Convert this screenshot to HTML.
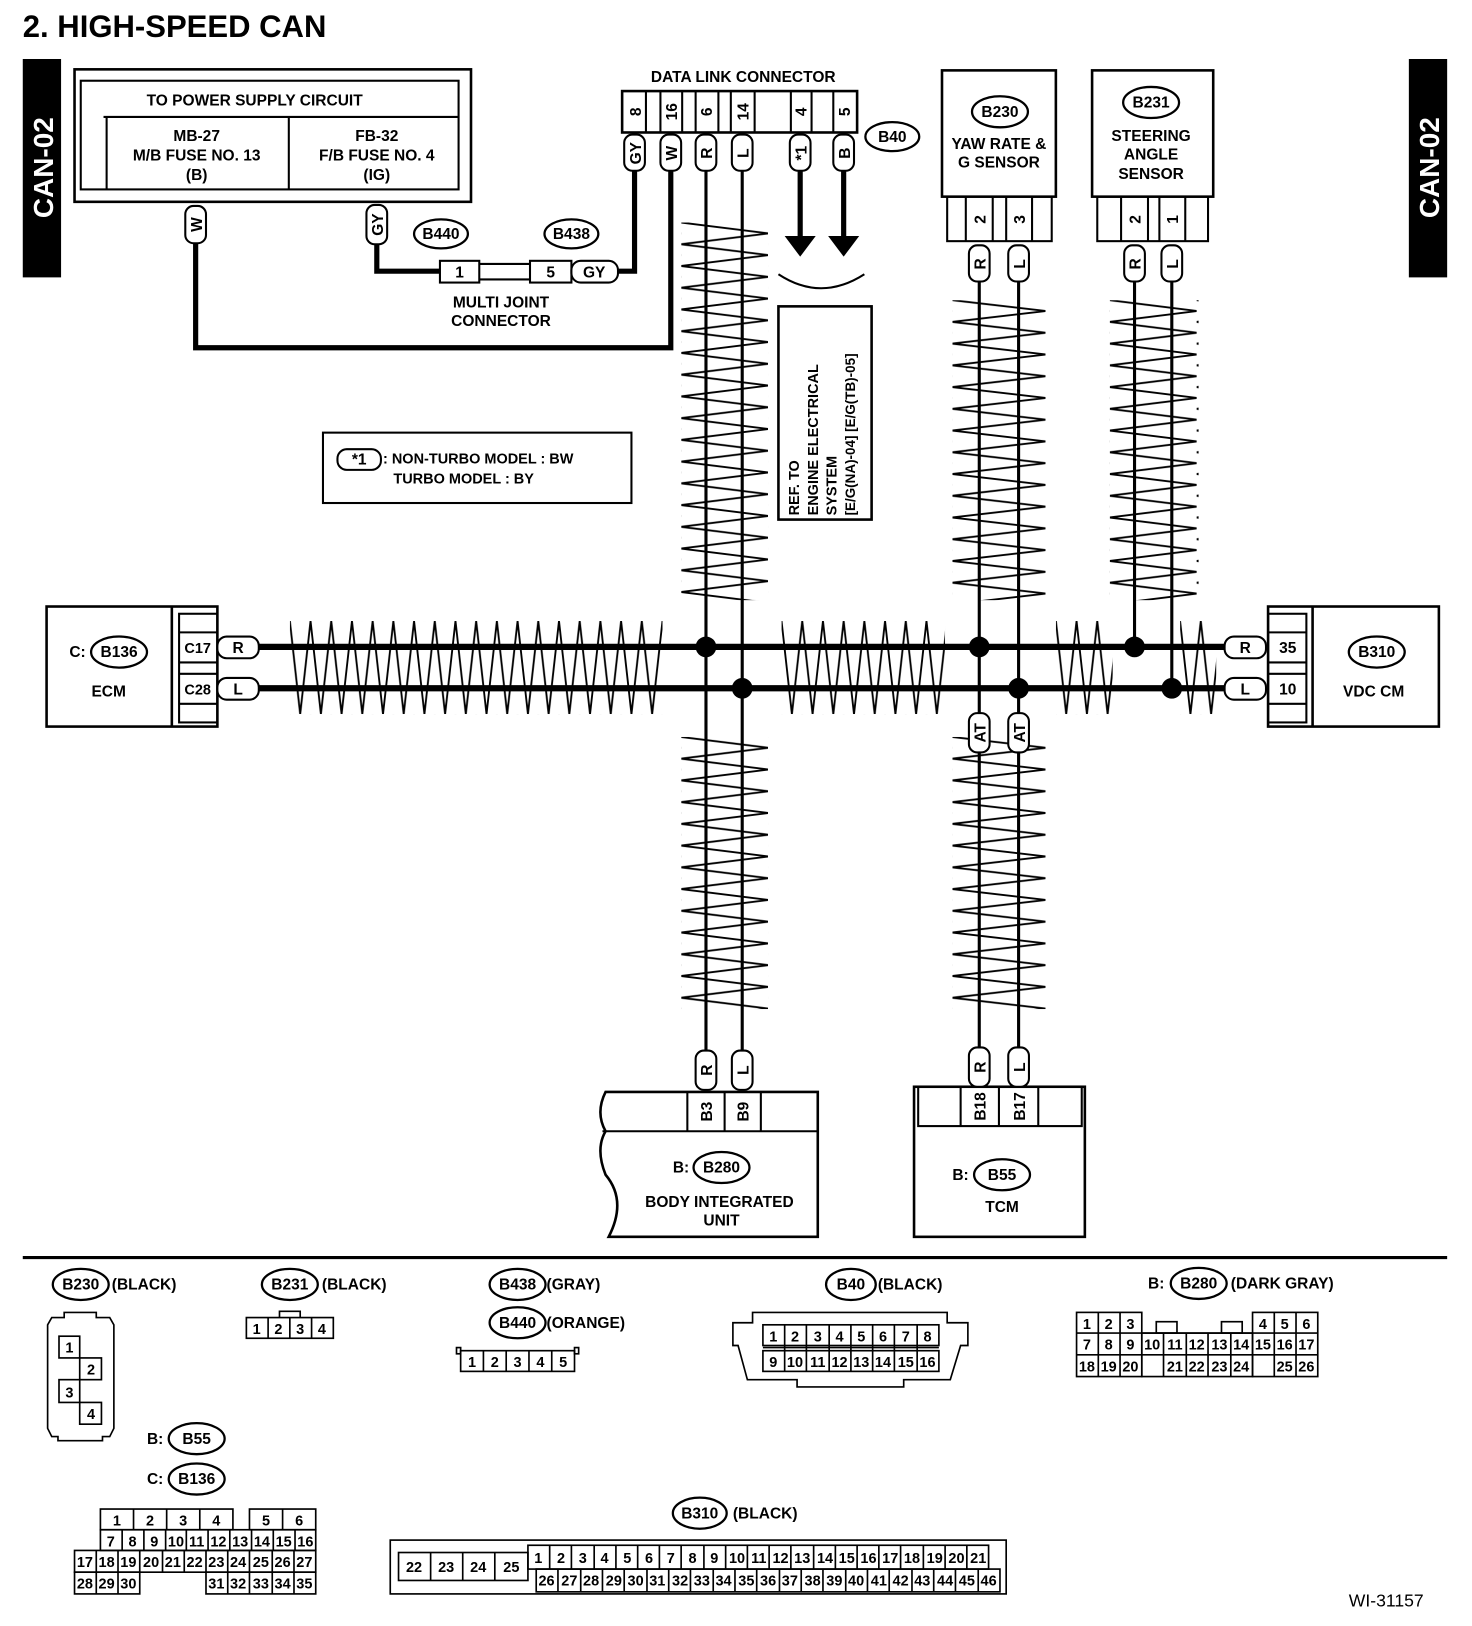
<!DOCTYPE html>
<html><head><meta charset="utf-8"><style>
html,body{margin:0;padding:0;background:#fff;}
svg{display:block}
text{font-family:"Liberation Sans",sans-serif;font-weight:bold;fill:#000}
</style></head><body>
<svg width="1472" height="1626" viewBox="0 0 1422 1571" preserveAspectRatio="none" xmlns="http://www.w3.org/2000/svg">
<defs>
<pattern id="zv" patternUnits="userSpaceOnUse" width="84" height="21"><path d="M0,0 L84,10.5 L0,21" fill="none" stroke="#000" stroke-width="1.8"/></pattern>
<pattern id="zv2" patternUnits="userSpaceOnUse" width="90" height="21"><path d="M0,0 L90,10.5 L0,21" fill="none" stroke="#000" stroke-width="1.8"/></pattern>
<pattern id="zh" patternUnits="userSpaceOnUse" width="20" height="90"><path d="M0,0 L10,90 L20,0" fill="none" stroke="#000" stroke-width="1.8"/></pattern>
</defs>
<rect width="1422" height="1571" fill="#fff"/>

<text x="22" y="36" font-size="30">2.  HIGH-SPEED CAN</text>

<!-- CAN-02 bars -->
<rect x="22" y="57" width="37" height="211" fill="#000"/>
<text transform="translate(51,162) rotate(-90)" font-size="27" text-anchor="middle" style="fill:#fff">CAN-02</text>
<rect x="1361" y="57" width="37" height="211" fill="#000"/>
<text transform="translate(1390,162) rotate(-90)" font-size="27" text-anchor="middle" style="fill:#fff">CAN-02</text>

<!-- zigzags -->
<svg x="658" y="215" width="84" height="365"><rect width="84" height="365" fill="url(#zv)"/></svg>
<svg x="658" y="712" width="84" height="263"><rect width="84" height="263" fill="url(#zv)"/></svg>
<svg x="920" y="290" width="90" height="290"><rect width="90" height="290" fill="url(#zv2)"/></svg>
<svg x="920" y="712" width="90" height="263"><rect width="90" height="263" fill="url(#zv2)"/></svg>
<svg x="1072" y="290" width="86" height="290"><rect width="86" height="290" fill="url(#zv)"/></svg>
<svg x="280" y="600" width="360" height="90"><rect width="360" height="90" fill="url(#zh)"/></svg>
<svg x="755" y="600" width="158" height="90"><rect width="158" height="90" fill="url(#zh)"/></svg>
<svg x="1020" y="600" width="55" height="90"><rect width="55" height="90" fill="url(#zh)"/></svg>
<svg x="1140" y="600" width="35" height="90"><rect width="35" height="90" fill="url(#zh)"/></svg>

<g fill="none" stroke="#000">
<rect x="72" y="67" width="383" height="128" stroke-width="2.5"/>
<rect x="78" y="78" width="365" height="105" stroke-width="2"/>
<line x1="100" y1="113" x2="443" y2="113" stroke-width="2"/>
<line x1="103" y1="113" x2="103" y2="183" stroke-width="2"/>
<line x1="279" y1="113" x2="279" y2="183" stroke-width="2"/>
<polyline points="189,235 189,336 648,336 648,165" stroke-width="5"/>
<polyline points="364,236 364,262 425,262" stroke-width="5"/>
<polyline points="597,262 613,262 613,165" stroke-width="5"/>
<rect x="425" y="252" width="38" height="21" stroke-width="2"/>
<rect x="512" y="252" width="40" height="21" stroke-width="2"/>
<line x1="463" y1="255" x2="512" y2="255" stroke-width="2"/>
<line x1="463" y1="270" x2="512" y2="270" stroke-width="2"/>
<rect x="601" y="88" width="227" height="40" stroke-width="2.5"/>
<g stroke-width="2">
<line x1="624" y1="88" x2="624" y2="128"/><line x1="638" y1="88" x2="638" y2="128"/>
<line x1="659" y1="88" x2="659" y2="128"/><line x1="672" y1="88" x2="672" y2="128"/>
<line x1="694" y1="88" x2="694" y2="128"/><line x1="706" y1="88" x2="706" y2="128"/>
<line x1="729" y1="88" x2="729" y2="128"/><line x1="764" y1="88" x2="764" y2="128"/>
<line x1="784" y1="88" x2="784" y2="128"/><line x1="805" y1="88" x2="805" y2="128"/>
</g>
<line x1="682" y1="165" x2="682" y2="1015" stroke-width="3"/>
<line x1="717" y1="165" x2="717" y2="1015" stroke-width="3"/>
<line x1="773" y1="165" x2="773" y2="228" stroke-width="5"/>
<line x1="815" y1="165" x2="815" y2="228" stroke-width="5"/>
<path d="M752,265 Q793,292 835,265" stroke-width="2"/>
<rect x="752" y="296" width="90" height="206" stroke-width="2.5"/>
<rect x="312" y="418" width="298" height="68" stroke-width="2"/>
<line x1="250" y1="625" x2="1183" y2="625" stroke-width="6"/>
<line x1="250" y1="665" x2="1183" y2="665" stroke-width="6"/>
<rect x="910" y="68" width="110" height="122" stroke-width="2.5"/>
<rect x="915" y="190" width="101" height="43" stroke-width="2"/>
<line x1="933" y1="190" x2="933" y2="233" stroke-width="2"/><line x1="959" y1="190" x2="959" y2="233" stroke-width="2"/>
<line x1="972" y1="190" x2="972" y2="233" stroke-width="2"/><line x1="997" y1="190" x2="997" y2="233" stroke-width="2"/>
<line x1="946" y1="272" x2="946" y2="1012" stroke-width="3"/>
<line x1="984" y1="272" x2="984" y2="1012" stroke-width="3"/>
<rect x="1055" y="68" width="117" height="122" stroke-width="2.5"/>
<rect x="1060" y="190" width="107" height="43" stroke-width="2"/>
<line x1="1083" y1="190" x2="1083" y2="233" stroke-width="2"/><line x1="1109" y1="190" x2="1109" y2="233" stroke-width="2"/>
<line x1="1120" y1="190" x2="1120" y2="233" stroke-width="2"/><line x1="1145" y1="190" x2="1145" y2="233" stroke-width="2"/>
<line x1="1096" y1="272" x2="1096" y2="625" stroke-width="3"/>
<line x1="1132" y1="272" x2="1132" y2="665" stroke-width="3"/>
<rect x="45" y="586" width="165" height="116" stroke-width="2.5"/>
<line x1="166" y1="586" x2="166" y2="702" stroke-width="2.5"/>
<rect x="173" y="593" width="37" height="105" stroke-width="2"/>
<line x1="173" y1="611" x2="210" y2="611" stroke-width="2"/>
<line x1="173" y1="640" x2="210" y2="640" stroke-width="2"/>
<line x1="173" y1="651" x2="210" y2="651" stroke-width="2"/>
<line x1="173" y1="680" x2="210" y2="680" stroke-width="2"/>
<rect x="1225" y="586" width="165" height="116" stroke-width="2.5"/>
<line x1="1268" y1="586" x2="1268" y2="702" stroke-width="2.5"/>
<rect x="1225" y="593" width="37" height="105" stroke-width="2"/>
<line x1="1225" y1="611" x2="1262" y2="611" stroke-width="2"/>
<line x1="1225" y1="640" x2="1262" y2="640" stroke-width="2"/>
<line x1="1225" y1="651" x2="1262" y2="651" stroke-width="2"/>
<line x1="1225" y1="680" x2="1262" y2="680" stroke-width="2"/>
<path d="M585,1055 L790,1055 L790,1195 L588,1195 Q606,1160 585,1135 Q575,1110 585,1093 Q575,1075 585,1055 Z" stroke-width="2.5"/>
<line x1="582" y1="1093" x2="790" y2="1093" stroke-width="2"/>
<line x1="664" y1="1055" x2="664" y2="1093" stroke-width="2"/><line x1="700" y1="1055" x2="700" y2="1093" stroke-width="2"/>
<line x1="735" y1="1055" x2="735" y2="1093" stroke-width="2"/>
<rect x="883" y="1050" width="165" height="145" stroke-width="2.5"/>
<rect x="887" y="1050" width="158" height="38" stroke-width="2"/>
<line x1="928" y1="1050" x2="928" y2="1088" stroke-width="2"/><line x1="965" y1="1050" x2="965" y2="1088" stroke-width="2"/>
<line x1="1003" y1="1050" x2="1003" y2="1088" stroke-width="2"/>
<line x1="22" y1="1215" x2="1398" y2="1215" stroke-width="3"/>
</g>

<polygon points="758,228 788,228 773,248" fill="#000"/>
<polygon points="800,228 830,228 815,248" fill="#000"/>
<g fill="#000">
<circle cx="682" cy="625" r="10"/><circle cx="717" cy="665" r="10"/>
<circle cx="946" cy="625" r="10"/><circle cx="984" cy="665" r="10"/>
<circle cx="1096" cy="625" r="10"/><circle cx="1132" cy="665" r="10"/>
</g>

<g fill="#fff" stroke="#000" stroke-width="2">
<rect x="179" y="199" width="20" height="36" rx="8"/>
<rect x="354" y="198" width="20" height="38" rx="8"/>
<rect x="603" y="130" width="20" height="35" rx="8"/>
<rect x="638" y="130" width="20" height="35" rx="8"/>
<rect x="672" y="130" width="20" height="35" rx="8"/>
<rect x="707" y="130" width="20" height="35" rx="8"/>
<rect x="763" y="130" width="20" height="35" rx="8"/>
<rect x="805" y="130" width="20" height="35" rx="8"/>
<rect x="936" y="237" width="20" height="35" rx="8"/>
<rect x="974" y="237" width="20" height="35" rx="8"/>
<rect x="1086" y="237" width="20" height="35" rx="8"/>
<rect x="1122" y="237" width="20" height="35" rx="8"/>
<rect x="936" y="689" width="20" height="38" rx="8"/>
<rect x="974" y="689" width="20" height="38" rx="8"/>
<rect x="672" y="1015" width="20" height="38" rx="8"/>
<rect x="707" y="1015" width="20" height="38" rx="8"/>
<rect x="936" y="1012" width="20" height="38" rx="8"/>
<rect x="974" y="1012" width="20" height="38" rx="8"/>
<rect x="552" y="252" width="45" height="21" rx="9"/>
<rect x="210" y="615" width="40" height="21" rx="9"/>
<rect x="210" y="655" width="40" height="21" rx="9"/>
<rect x="1183" y="615" width="40" height="21" rx="9"/>
<rect x="1183" y="655" width="40" height="21" rx="9"/>
<rect x="326" y="434" width="42" height="20" rx="9"/>
</g>
<g font-size="15">
<text transform="translate(195,217) rotate(-90)" text-anchor="middle">W</text>
<text transform="translate(370,217) rotate(-90)" text-anchor="middle">GY</text>
<text transform="translate(619,148) rotate(-90)" text-anchor="middle">GY</text>
<text transform="translate(654,148) rotate(-90)" text-anchor="middle">W</text>
<text transform="translate(688,148) rotate(-90)" text-anchor="middle">R</text>
<text transform="translate(723,148) rotate(-90)" text-anchor="middle">L</text>
<text transform="translate(779,148) rotate(-90)" text-anchor="middle">*1</text>
<text transform="translate(821,148) rotate(-90)" text-anchor="middle">B</text>
<text transform="translate(952,255) rotate(-90)" text-anchor="middle">R</text>
<text transform="translate(990,255) rotate(-90)" text-anchor="middle">L</text>
<text transform="translate(1102,255) rotate(-90)" text-anchor="middle">R</text>
<text transform="translate(1138,255) rotate(-90)" text-anchor="middle">L</text>
<text transform="translate(952,708) rotate(-90)" text-anchor="middle">AT</text>
<text transform="translate(990,708) rotate(-90)" text-anchor="middle">AT</text>
<text transform="translate(688,1034) rotate(-90)" text-anchor="middle">R</text>
<text transform="translate(723,1034) rotate(-90)" text-anchor="middle">L</text>
<text transform="translate(952,1031) rotate(-90)" text-anchor="middle">R</text>
<text transform="translate(990,1031) rotate(-90)" text-anchor="middle">L</text>
<text transform="translate(619,108) rotate(-90)" text-anchor="middle">8</text>
<text transform="translate(654,108) rotate(-90)" text-anchor="middle">16</text>
<text transform="translate(688,108) rotate(-90)" text-anchor="middle">6</text>
<text transform="translate(723,108) rotate(-90)" text-anchor="middle">14</text>
<text transform="translate(779,108) rotate(-90)" text-anchor="middle">4</text>
<text transform="translate(821,108) rotate(-90)" text-anchor="middle">5</text>
<text transform="translate(952,212) rotate(-90)" text-anchor="middle">2</text>
<text transform="translate(990,212) rotate(-90)" text-anchor="middle">3</text>
<text transform="translate(1102,212) rotate(-90)" text-anchor="middle">2</text>
<text transform="translate(1138,212) rotate(-90)" text-anchor="middle">1</text>
<text transform="translate(688,1074) rotate(-90)" text-anchor="middle">B3</text>
<text transform="translate(723,1074) rotate(-90)" text-anchor="middle">B9</text>
<text transform="translate(952,1069) rotate(-90)" text-anchor="middle">B18</text>
<text transform="translate(990,1069) rotate(-90)" text-anchor="middle">B17</text>
<text x="574" y="268" text-anchor="middle">GY</text>
<text x="230" y="631" text-anchor="middle">R</text>
<text x="230" y="671" text-anchor="middle">L</text>
<text x="1203" y="631" text-anchor="middle">R</text>
<text x="1203" y="671" text-anchor="middle">L</text>
<text x="347" y="449" text-anchor="middle">*1</text>
<text x="444" y="268" text-anchor="middle">1</text>
<text x="532" y="268" text-anchor="middle">5</text>
<text x="191" y="631" text-anchor="middle" font-size="14">C17</text>
<text x="191" y="671" text-anchor="middle" font-size="14">C28</text>
<text x="1244" y="631" text-anchor="middle">35</text>
<text x="1244" y="671" text-anchor="middle">10</text>
</g>

<g font-size="15" text-anchor="middle">
<text x="246" y="102">TO POWER SUPPLY CIRCUIT</text>
<text x="190" y="136">MB-27</text><text x="190" y="155">M/B FUSE NO. 13</text><text x="190" y="174">(B)</text>
<text x="364" y="136">FB-32</text><text x="364" y="155">F/B FUSE NO. 4</text><text x="364" y="174">(IG)</text>
<text x="718" y="79">DATA LINK CONNECTOR</text>
<text x="484" y="297">MULTI JOINT</text><text x="484" y="315">CONNECTOR</text>
<text x="965" y="144">YAW RATE &amp;</text><text x="965" y="162">G SENSOR</text>
<text x="1112" y="136">STEERING</text><text x="1112" y="154">ANGLE</text><text x="1112" y="173">SENSOR</text>
<text x="105" y="673">ECM</text>
<text x="1327" y="673">VDC CM</text>
<text x="695" y="1166">BODY INTEGRATED</text><text x="697" y="1184">UNIT</text>
<text x="968" y="1171">TCM</text>
</g>
<g font-size="14">
<text x="370" y="448">: NON-TURBO MODEL  : BW</text>
<text x="380" y="467">TURBO MODEL  : BY</text>
<text transform="translate(772,498) rotate(-90)">REF. TO</text>
<text transform="translate(790,498) rotate(-90)">ENGINE ELECTRICAL</text>
<text transform="translate(808,498) rotate(-90)">SYSTEM</text>
<text transform="translate(826,498) rotate(-90)" font-size="13">[E/G(NA)-04] [E/G(TB)-05]</text>
</g>

<g fill="none" stroke="#000" stroke-width="2.2">
<ellipse cx="426" cy="226" rx="26" ry="14"/>
<ellipse cx="552" cy="226" rx="26" ry="14"/>
<ellipse cx="862" cy="132" rx="26" ry="14"/>
<ellipse cx="966" cy="108" rx="27" ry="15"/>
<ellipse cx="1112" cy="99" rx="27" ry="15"/>
<ellipse cx="115" cy="630" rx="27" ry="15"/>
<ellipse cx="1330" cy="630" rx="27" ry="15"/>
<ellipse cx="697" cy="1128" rx="27" ry="15"/>
<ellipse cx="968" cy="1135" rx="27" ry="15"/>
<ellipse cx="78" cy="1241" rx="27" ry="15"/>
<ellipse cx="280" cy="1241" rx="27" ry="15"/>
<ellipse cx="500" cy="1241" rx="27" ry="15"/>
<ellipse cx="500" cy="1278" rx="27" ry="15"/>
<ellipse cx="822" cy="1241" rx="24" ry="15"/>
<ellipse cx="1158" cy="1240" rx="27" ry="15"/>
<ellipse cx="190" cy="1390" rx="27" ry="15"/>
<ellipse cx="190" cy="1429" rx="27" ry="15"/>
<ellipse cx="676" cy="1462" rx="26" ry="15"/>
</g>
<g font-size="15" text-anchor="middle">
<text x="426" y="231">B440</text><text x="552" y="231">B438</text><text x="862" y="137">B40</text>
<text x="966" y="113">B230</text><text x="1112" y="104">B231</text>
<text x="115" y="635">B136</text><text x="1330" y="635">B310</text>
<text x="697" y="1133">B280</text><text x="968" y="1140">B55</text>
<text x="78" y="1246">B230</text><text x="280" y="1246">B231</text>
<text x="500" y="1246">B438</text><text x="500" y="1283">B440</text>
<text x="822" y="1246">B40</text><text x="1158" y="1245">B280</text>
<text x="190" y="1395">B55</text><text x="190" y="1434">B136</text>
<text x="676" y="1467">B310</text>
</g>
<g font-size="15">
<text x="67" y="635">C:</text><text x="650" y="1133">B:</text><text x="920" y="1140">B:</text>
<text x="108" y="1246">(BLACK)</text><text x="311" y="1246">(BLACK)</text>
<text x="528" y="1246">(GRAY)</text><text x="528" y="1283">(ORANGE)</text>
<text x="848" y="1246">(BLACK)</text>
<text x="1109" y="1245">B:</text><text x="1189" y="1245">(DARK GRAY)</text>
<text x="142" y="1395">B:</text><text x="142" y="1434">C:</text>
<text x="708" y="1467">(BLACK)</text>
</g>
<text x="1303" y="1552" font-size="17" style="font-weight:normal">WI-31157</text>

<g fill="none" stroke="#000" stroke-width="1.6">
<path d="M62,1268 L93,1268 L93,1273 L106,1273 L110,1280 L110,1380 L106,1388 L99,1388 L99,1392 L56,1392 L56,1388 L50,1388 L46,1380 L46,1280 L50,1273 L62,1273 Z"/>
<rect x="57" y="1291" width="20" height="21"/><rect x="77" y="1312" width="21" height="21"/>
<rect x="57" y="1333" width="20" height="22"/><rect x="77" y="1355" width="21" height="21"/>
<rect x="238" y="1273" width="84" height="20"/>
<line x1="259" y1="1273" x2="259" y2="1293"/><line x1="280" y1="1273" x2="280" y2="1293"/><line x1="301" y1="1273" x2="301" y2="1293"/>
<polyline points="270,1273 270,1267 290,1267 290,1273"/>
<rect x="445" y="1305" width="110" height="20"/>
<line x1="467" y1="1305" x2="467" y2="1325"/><line x1="489" y1="1305" x2="489" y2="1325"/><line x1="511" y1="1305" x2="511" y2="1325"/><line x1="533" y1="1305" x2="533" y2="1325"/>
<rect x="441" y="1302" width="4" height="6"/><rect x="555" y="1302" width="4" height="6"/>
<path d="M727,1268 L915,1268 L915,1278 L935,1278 L935,1300 L928,1300 L918,1333 L873,1333 L873,1340 L770,1340 L770,1333 L722,1333 L713,1300 L708,1300 L708,1278 L727,1278 Z"/>
<rect x="737" y="1280" width="170" height="20"/><rect x="737" y="1305" width="170" height="20"/>
<line x1="737" y1="1302" x2="907" y2="1302"/>
<g>
<line x1="758" y1="1280" x2="758" y2="1325"/><line x1="779" y1="1280" x2="779" y2="1325"/><line x1="801" y1="1280" x2="801" y2="1325"/><line x1="822" y1="1280" x2="822" y2="1325"/><line x1="843" y1="1280" x2="843" y2="1325"/><line x1="864" y1="1280" x2="864" y2="1325"/><line x1="886" y1="1280" x2="886" y2="1325"/>
</g>
<rect x="1040" y="1268" width="63" height="62"/><rect x="1210" y="1268" width="63" height="62"/>
<rect x="1103" y="1288" width="107" height="42"/>
<line x1="1040" y1="1288" x2="1273" y2="1288"/><line x1="1040" y1="1309" x2="1273" y2="1309"/>
<line x1="1061" y1="1268" x2="1061" y2="1330"/><line x1="1082" y1="1268" x2="1082" y2="1330"/>
<line x1="1231" y1="1268" x2="1231" y2="1330"/><line x1="1252" y1="1268" x2="1252" y2="1330"/>
<line x1="1124" y1="1288" x2="1124" y2="1330"/><line x1="1146" y1="1288" x2="1146" y2="1330"/><line x1="1167" y1="1288" x2="1167" y2="1330"/><line x1="1189" y1="1288" x2="1189" y2="1330"/>
<rect x="1117" y="1277" width="20" height="11"/><rect x="1180" y="1277" width="20" height="11"/>
<rect x="97" y="1458" width="128" height="20"/><rect x="241" y="1458" width="64" height="20"/>
<line x1="129" y1="1458" x2="129" y2="1478"/><line x1="161" y1="1458" x2="161" y2="1478"/><line x1="193" y1="1458" x2="193" y2="1478"/><line x1="273" y1="1458" x2="273" y2="1478"/>
<rect x="97" y="1478" width="208" height="20"/>
<rect x="72" y="1498" width="233" height="21"/>
<rect x="72" y="1519" width="63" height="21"/><rect x="199" y="1519" width="106" height="21"/>
</g>
<g stroke="#000" stroke-width="1.6">
<line x1="118" y1="1478" x2="118" y2="1498"/><line x1="139" y1="1478" x2="139" y2="1498"/><line x1="160" y1="1478" x2="160" y2="1498"/><line x1="180" y1="1478" x2="180" y2="1498"/><line x1="201" y1="1478" x2="201" y2="1498"/><line x1="222" y1="1478" x2="222" y2="1498"/><line x1="243" y1="1478" x2="243" y2="1498"/><line x1="264" y1="1478" x2="264" y2="1498"/><line x1="285" y1="1478" x2="285" y2="1498"/>
<line x1="93" y1="1498" x2="93" y2="1540"/><line x1="114" y1="1498" x2="114" y2="1540"/><line x1="135" y1="1498" x2="135" y2="1519"/><line x1="157" y1="1498" x2="157" y2="1519"/><line x1="178" y1="1498" x2="178" y2="1519"/><line x1="199" y1="1498" x2="199" y2="1519"/><line x1="220" y1="1498" x2="220" y2="1540"/><line x1="241" y1="1498" x2="241" y2="1540"/><line x1="263" y1="1498" x2="263" y2="1540"/><line x1="284" y1="1498" x2="284" y2="1540"/>
</g>
<g font-size="14" text-anchor="middle" style="font-weight:normal">
<text x="67" y="1307">1</text><text x="88" y="1328">2</text><text x="67" y="1350">3</text><text x="88" y="1371">4</text>
<text x="248" y="1289">1</text><text x="269" y="1289">2</text><text x="290" y="1289">3</text><text x="311" y="1289">4</text>
<text x="456" y="1321">1</text><text x="478" y="1321">2</text><text x="500" y="1321">3</text><text x="522" y="1321">4</text><text x="544" y="1321">5</text>
<text x="747" y="1296">1</text><text x="768" y="1296">2</text><text x="790" y="1296">3</text><text x="811" y="1296">4</text><text x="832" y="1296">5</text><text x="853" y="1296">6</text><text x="875" y="1296">7</text><text x="896" y="1296">8</text>
<text x="747" y="1321">9</text><text x="768" y="1321">10</text><text x="790" y="1321">11</text><text x="811" y="1321">12</text><text x="832" y="1321">13</text><text x="853" y="1321">14</text><text x="875" y="1321">15</text><text x="896" y="1321">16</text>
<text x="1050" y="1284">1</text><text x="1071" y="1284">2</text><text x="1092" y="1284">3</text><text x="1220" y="1284">4</text><text x="1241" y="1284">5</text><text x="1262" y="1284">6</text>
<text x="1050" y="1304">7</text><text x="1071" y="1304">8</text><text x="1092" y="1304">9</text><text x="1113" y="1304">10</text><text x="1135" y="1304">11</text><text x="1156" y="1304">12</text><text x="1178" y="1304">13</text><text x="1199" y="1304">14</text><text x="1220" y="1304">15</text><text x="1241" y="1304">16</text><text x="1262" y="1304">17</text>
<text x="1050" y="1325">18</text><text x="1071" y="1325">19</text><text x="1092" y="1325">20</text><text x="1135" y="1325">21</text><text x="1156" y="1325">22</text><text x="1178" y="1325">23</text><text x="1199" y="1325">24</text><text x="1241" y="1325">25</text><text x="1262" y="1325">26</text>
<text x="113" y="1474">1</text><text x="145" y="1474">2</text><text x="177" y="1474">3</text><text x="209" y="1474">4</text><text x="257" y="1474">5</text><text x="289" y="1474">6</text>
<text x="107" y="1494">7</text><text x="128" y="1494">8</text><text x="149" y="1494">9</text><text x="170" y="1494">10</text><text x="190" y="1494">11</text><text x="211" y="1494">12</text><text x="232" y="1494">13</text><text x="253" y="1494">14</text><text x="274" y="1494">15</text><text x="295" y="1494">16</text>
<text x="82" y="1514">17</text><text x="103" y="1514">18</text><text x="124" y="1514">19</text><text x="146" y="1514">20</text><text x="167" y="1514">21</text><text x="188" y="1514">22</text><text x="209" y="1514">23</text><text x="230" y="1514">24</text><text x="252" y="1514">25</text><text x="273" y="1514">26</text><text x="294" y="1514">27</text>
<text x="82" y="1535">28</text><text x="103" y="1535">29</text><text x="124" y="1535">30</text><text x="209" y="1535">31</text><text x="230" y="1535">32</text><text x="252" y="1535">33</text><text x="273" y="1535">34</text><text x="294" y="1535">35</text>
</g>
<g fill="none" stroke="#000" stroke-width="1.6">
<rect x="377" y="1488" width="595" height="52"/>
<rect x="385" y="1500" width="125" height="27"/>
<line x1="416" y1="1500" x2="416" y2="1527"/><line x1="447" y1="1500" x2="447" y2="1527"/><line x1="478" y1="1500" x2="478" y2="1527"/>
<rect x="510" y="1493" width="445" height="23"/>
<rect x="518" y="1516" width="448" height="22"/>
<path d="M531,1493v23M552,1493v23M574,1493v23M595,1493v23M616,1493v23M637,1493v23M658,1493v23M680,1493v23M701,1493v23M722,1493v23M743,1493v23M764,1493v23M786,1493v23M807,1493v23M828,1493v23M849,1493v23M870,1493v23M892,1493v23M913,1493v23M934,1493v23"/>
<path d="M539,1516v22M561,1516v22M582,1516v22M603,1516v22M625,1516v22M646,1516v22M667,1516v22M689,1516v22M710,1516v22M731,1516v22M753,1516v22M774,1516v22M795,1516v22M817,1516v22M838,1516v22M859,1516v22M881,1516v22M902,1516v22M923,1516v22M945,1516v22"/>
</g>
<g font-size="14" text-anchor="middle" style="font-weight:normal">
<text x="400" y="1519">22</text><text x="431" y="1519">23</text><text x="462" y="1519">24</text><text x="494" y="1519">25</text>
<text x="520" y="1510">1</text><text x="542" y="1510">2</text><text x="563" y="1510">3</text><text x="584" y="1510">4</text><text x="606" y="1510">5</text><text x="627" y="1510">6</text><text x="648" y="1510">7</text><text x="669" y="1510">8</text><text x="690" y="1510">9</text><text x="712" y="1510">10</text><text x="733" y="1510">11</text><text x="754" y="1510">12</text><text x="775" y="1510">13</text><text x="797" y="1510">14</text><text x="818" y="1510">15</text><text x="839" y="1510">16</text><text x="860" y="1510">17</text><text x="881" y="1510">18</text><text x="903" y="1510">19</text><text x="924" y="1510">20</text><text x="945" y="1510">21</text>
<text x="528" y="1532">26</text><text x="550" y="1532">27</text><text x="571" y="1532">28</text><text x="593" y="1532">29</text><text x="614" y="1532">30</text><text x="635" y="1532">31</text><text x="657" y="1532">32</text><text x="678" y="1532">33</text><text x="699" y="1532">34</text><text x="721" y="1532">35</text><text x="742" y="1532">36</text><text x="763" y="1532">37</text><text x="785" y="1532">38</text><text x="806" y="1532">39</text><text x="827" y="1532">40</text><text x="849" y="1532">41</text><text x="870" y="1532">42</text><text x="891" y="1532">43</text><text x="913" y="1532">44</text><text x="934" y="1532">45</text><text x="955" y="1532">46</text>
</g>
</svg>
</body></html>
